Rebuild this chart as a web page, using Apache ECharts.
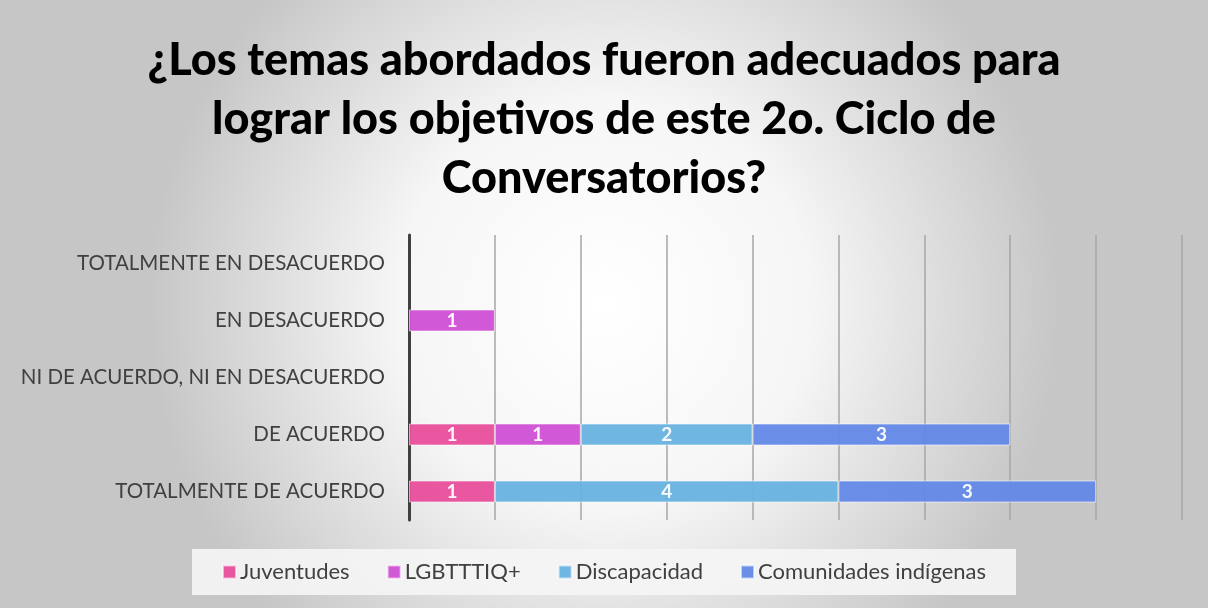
<!DOCTYPE html>
<html lang="es">
<head>
    <meta charset="UTF-8">
    <title>Temas abordados</title>
    <script src="https://cdn.jsdelivr.net/npm/echarts@6/dist/echarts.min.js"></script>
    <style>
        html, body { margin: 0; padding: 0; }
        #chart { width: 1208px; height: 608px; }
    </style>
</head>
<body>
    <div id="chart"></div>
    <script>
        // categorias (de abajo hacia arriba)
        const categorias = [
            'TOTALMENTE DE ACUERDO',
            'DE ACUERDO',
            'NI DE ACUERDO, NI EN DESACUERDO',
            'EN DESACUERDO',
            'TOTALMENTE EN DESACUERDO'
        ];
        const grupos = ['Juventudes', 'LGBTTTIQ+', 'Discapacidad', 'Comunidades indígenas'];
        const juventudes = [1, 1, null, null, null];
        const lgbt = [null, 1, null, 1, null];
        const discapacidad = [4, 2, null, null, null];
        const indigenas = [3, 3, null, null, null];
        const colores = ['#E84E9C', '#CF4FD4', '#68B2E0', '#6389E8'];

        const valores = [juventudes, lgbt, discapacidad, indigenas];

        const chart = echarts.init(document.getElementById('chart'));

        const series = grupos.map((nombre, i) => ({
            name: nombre,
            type: 'bar',
            stack: 'total',
            barWidth: 22,
            data: valores[i],
            itemStyle: {
                color: colores[i],
                opacity: 0.95,
                borderColor: 'rgba(255,255,255,0.6)',
                borderWidth: 1
            },
            label: {
                show: true,
                position: 'inside',
                color: '#fff',
                fontFamily: 'Lato',
                fontWeight: 'bold',
                fontSize: 19
            }
        }));

        const option = {
            backgroundColor: {
                type: 'radial',
                x: 0.5, y: 0.5, r: 0.75,
                colorStops: [
                    { offset: 0, color: '#ffffff' },
                    { offset: 0.45, color: '#f6f6f6' },
                    { offset: 1, color: '#c6c6c6' }
                ]
            },
            title: {
                text: '¿Los temas abordados fueron adecuados para\nlograr los objetivos de este 2o. Ciclo de\nConversatorios?',
                left: 'center',
                top: 26,
                textStyle: {
                    fontFamily: 'Lato',
                    fontWeight: 900,
                    fontSize: 45,
                    lineHeight: 59,
                    color: '#000'
                }
            },
            legend: {
                bottom: 13,
                left: 'center',
                data: grupos,
                itemWidth: 13,
                itemHeight: 13,
                itemGap: 37,
                padding: [12, 30],
                backgroundColor: 'rgba(245,245,245,0.9)',
                icon: 'rect',
                textStyle: {
                    fontFamily: 'Lato',
                    fontSize: 22,
                    color: '#404040',
                    padding: [0, 0, 0, -1]
                }
            },
            grid: {
                left: 409,
                right: 26,
                top: 235,
                bottom: 88
            },
            xAxis: {
                type: 'value',
                min: 0,
                max: 9,
                interval: 1,
                axisLabel: { show: false },
                axisLine: { show: false },
                axisTick: { show: false },
                splitLine: { lineStyle: { color: '#a6a6a6', width: 1.5 } }
            },
            yAxis: {
                type: 'category',
                data: categorias,
                axisTick: { show: false },
                axisLine: { lineStyle: { color: '#404040', width: 3 } },
                axisLabel: {
                    fontFamily: 'Lato',
                    fontSize: 20.5,
                    color: '#404040',
                    margin: 24
                }
            },
            series: series
        };

        chart.setOption(option);
    </script>
</body>
</html>
